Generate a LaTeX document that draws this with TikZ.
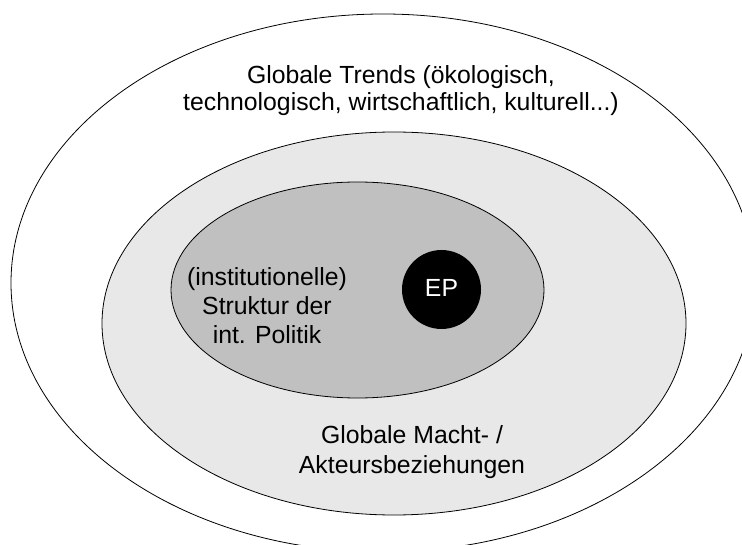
\documentclass[tikz,border=0pt]{standalone}
\usepackage{fontspec}
\setmainfont{Liberation Sans}
\definecolor{ringlight}{HTML}{E8E8E8}
\definecolor{ringmid}{HTML}{C0C0C0}
\begin{document}
\begin{tikzpicture}[x=1pt,y=-1pt,
  ring/.style={draw=black,line width=0.8pt},
  label/.style={align=center,inner sep=0pt,font=\fontsize{24.8}{29}\selectfont,anchor=base}]
\useasboundingbox (0,0) rectangle (742,545);
\begin{scope}
\clip (0,0) rectangle (742,545);
% outer ring: global trends
\path[ring,fill=white] (383,283) ellipse [x radius=372pt, y radius=269pt];
% middle ring: power / actor relations
\path[ring,fill=ringlight] (394,323.5) ellipse [x radius=292pt, y radius=191.5pt];
% inner ring: institutional structure
\path[ring,fill=ringmid] (357.5,290) ellipse [x radius=186.5pt, y radius=108pt];
\end{scope}
% core
\node[circle,fill=black,minimum size=79pt,inner sep=0pt] (ep) at (441.5,289.5) {};
\node[label,text=white] (eplabel) at (441.5,297) {EP};
% multi-line labels are anchored at the baseline of their last line
\node[label,font=\fontsize{24.8}{27}\selectfont] (trends) at (401,111) {Globale Trends (ökologisch,\\technologisch, wirtschaftlich, kulturell...)};
\node[label] (struktur) at (267,344) {(institutionelle)\\Struktur der\\int. Politik};
\node[label,font=\fontsize{24.8}{30}\selectfont] (macht) at (412,473) {Globale Macht- /\\Akteursbeziehungen};
\end{tikzpicture}
\end{document}
